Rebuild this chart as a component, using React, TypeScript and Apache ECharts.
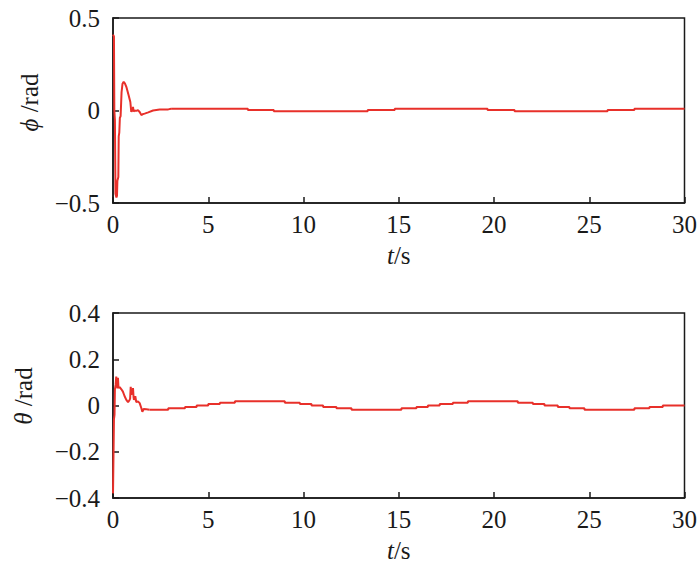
import React, { useEffect, useRef } from "react";
import * as echarts from "echarts";

// phi (top) transient part
const PHI_T = [0, 0.05, 0.07, 0.1, 0.13, 0.18, 0.21, 0.23, 0.28, 0.3, 0.33, 0.36, 0.4, 0.45, 0.5, 0.56, 0.63, 0.7, 0.82, 0.91, 0.96, 1.0, 1.03, 1.05, 1.08, 1.14, 1.22, 1.31, 1.4, 1.49, 1.55, 1.66, 1.85, 2.1, 2.45, 2.9, 3.05];
const PHI_V = [0.41, 0.4, 0.0, -0.05, -0.45, -0.47, -0.46, -0.38, -0.36, -0.14, -0.12, -0.04, -0.03, 0.1, 0.145, 0.155, 0.145, 0.128, 0.083, 0.046, -0.008, 0.01, -0.005, 0.02, -0.005, 0.0, -0.002, 0.002, -0.008, -0.025, -0.02, -0.017, -0.01, 0.0, 0.005, 0.006, 0.009];
// phi stepped part (value holds until next time)
const PHI_STEP_T = [3.05, 7.08, 8.44, 13.37, 14.79, 19.66, 21.08, 25.96, 27.37, 30];
const PHI_STEP_V = [0.009, 0.003, -0.004, 0.003, 0.009, 0.003, -0.004, 0.003, 0.009, 0.009];

// theta (bottom) transient part
const TH_T = [0, 0.05, 0.08, 0.1, 0.14, 0.17, 0.2, 0.23, 0.26, 0.29, 0.35, 0.44, 0.52, 0.61, 0.7, 0.79, 0.87, 0.9, 0.93, 0.96, 1.0, 1.05, 1.08, 1.1, 1.17, 1.22, 1.31, 1.4, 1.49, 1.54, 1.61, 1.75, 1.92];
const TH_V = [-0.38, -0.06, -0.04, 0.07, 0.09, 0.125, 0.1, 0.074, 0.12, 0.075, 0.08, 0.07, 0.06, 0.04, 0.024, 0.014, 0.024, 0.03, 0.081, 0.05, 0.05, 0.075, 0.035, 0.024, 0.04, 0.015, 0.018, 0.01, -0.012, -0.027, -0.015, -0.016, -0.018];
// theta stepped part
const TH_STEP_T = [1.92, 2.9, 3.78, 4.39, 5.0, 5.61, 6.4, 9.02, 9.81, 10.42, 11.03, 11.73, 12.52, 15.14, 15.93, 16.53, 17.15, 17.84, 18.63, 21.25, 22.04, 22.65, 23.35, 23.96, 24.75, 27.37, 28.16, 28.86, 30];
const TH_STEP_V = [-0.018, -0.012, -0.006, 0, 0.006, 0.012, 0.018, 0.012, 0.006, 0, -0.006, -0.012, -0.018, -0.012, -0.006, 0, 0.006, 0.012, 0.018, 0.012, 0.006, 0, -0.006, -0.012, -0.018, -0.012, -0.006, 0, 0];

const X_NAME = "{i|t}/s";
const PHI_NAME = "{i|ϕ} /rad";
const TH_NAME = "{i|θ} /rad";

const FONT = "Liberation Serif";
const FS = 25;
const INK = "#1a1a1a";
const RED = "#e8302a";

const zip = (a: number[], b: number[]) => a.map((t, i) => [t, b[i]]);
const fmt = (v: number) => (v < 0 ? "\u2212" + String(-v) : String(v));

export default function App() {
  const ref = useRef<HTMLDivElement>(null);
  useEffect(() => {
    if (!ref.current) return;
    const chart = echarts.init(ref.current, undefined, { renderer: "svg" });
    const grid = (top: number) => ({
      left: 113,
      top,
      width: 572,
      height: 185,
      show: true,
      borderColor: INK,
      borderWidth: 1.5,
      backgroundColor: "transparent",
    });
    const xAxis = (gridIndex: number) => ({
      type: "value" as const,
      gridIndex,
      min: 0,
      max: 30,
      interval: 5,
      name: X_NAME,
      nameLocation: "middle" as const,
      nameGap: 40,
      nameTextStyle: {
        fontFamily: FONT,
        fontSize: FS,
        color: INK,
        rich: { i: { fontStyle: "italic", fontFamily: FONT, fontSize: FS, color: INK } },
      },
      axisLine: { show: true, onZero: false, lineStyle: { color: INK, width: 1.5 } },
      axisTick: { show: true, inside: true, length: 6, lineStyle: { color: INK, width: 1.5 } },
      axisLabel: { fontFamily: FONT, fontSize: FS, color: INK, margin: 9 },
      splitLine: { show: false },
    });
    const yAxis = (gridIndex: number, min: number, max: number, interval: number, name: string, gap: number, pad: number) => ({
      type: "value" as const,
      gridIndex,
      min,
      max,
      interval,
      name,
      nameLocation: "middle" as const,
      nameRotate: 90,
      nameGap: gap,
      nameTextStyle: {
        fontFamily: FONT,
        fontSize: FS,
        color: INK,
        padding: [0, 0, 0, pad],
        rich: { i: { fontStyle: "italic", fontFamily: FONT, fontSize: FS, color: INK } },
      },
      axisLine: { show: true, onZero: false, lineStyle: { color: INK, width: 1.5 } },
      axisTick: { show: true, inside: true, length: 6, lineStyle: { color: INK, width: 1.5 } },
      axisLabel: { fontFamily: FONT, fontSize: FS, color: INK, margin: 13, formatter: fmt },
      splitLine: { show: false },
    });
    const line = (xi: number, data: number[][], step?: "end") => ({
      type: "line" as const,
      xAxisIndex: xi,
      yAxisIndex: xi,
      data,
      step: step ?? false,
      showSymbol: false,
      symbol: "none",
      lineStyle: { color: RED, width: 2 },
      itemStyle: { color: RED },
    });
    chart.setOption({
      animation: false,
      backgroundColor: "#ffffff",
      textStyle: { fontFamily: FONT },
      grid: [grid(18), grid(313)],
      xAxis: [xAxis(0), xAxis(1)],
      yAxis: [
        yAxis(0, -0.5, 0.5, 0.5, PHI_NAME, 71, 16),
        yAxis(1, -0.4, 0.4, 0.2, TH_NAME, 77, 19),
      ],
      series: [
        line(0, zip(PHI_T, PHI_V)),
        line(0, zip(PHI_STEP_T, PHI_STEP_V), "end"),
        line(1, zip(TH_T, TH_V)),
        line(1, zip(TH_STEP_T, TH_STEP_V), "end"),
      ],
    });
    return () => chart.dispose();
  }, []);
  return (
    <div
      ref={ref}
      style={{ position: "absolute", left: 0, top: 0, width: 700, height: 573, background: "#fff" }}
    />
  );
}
